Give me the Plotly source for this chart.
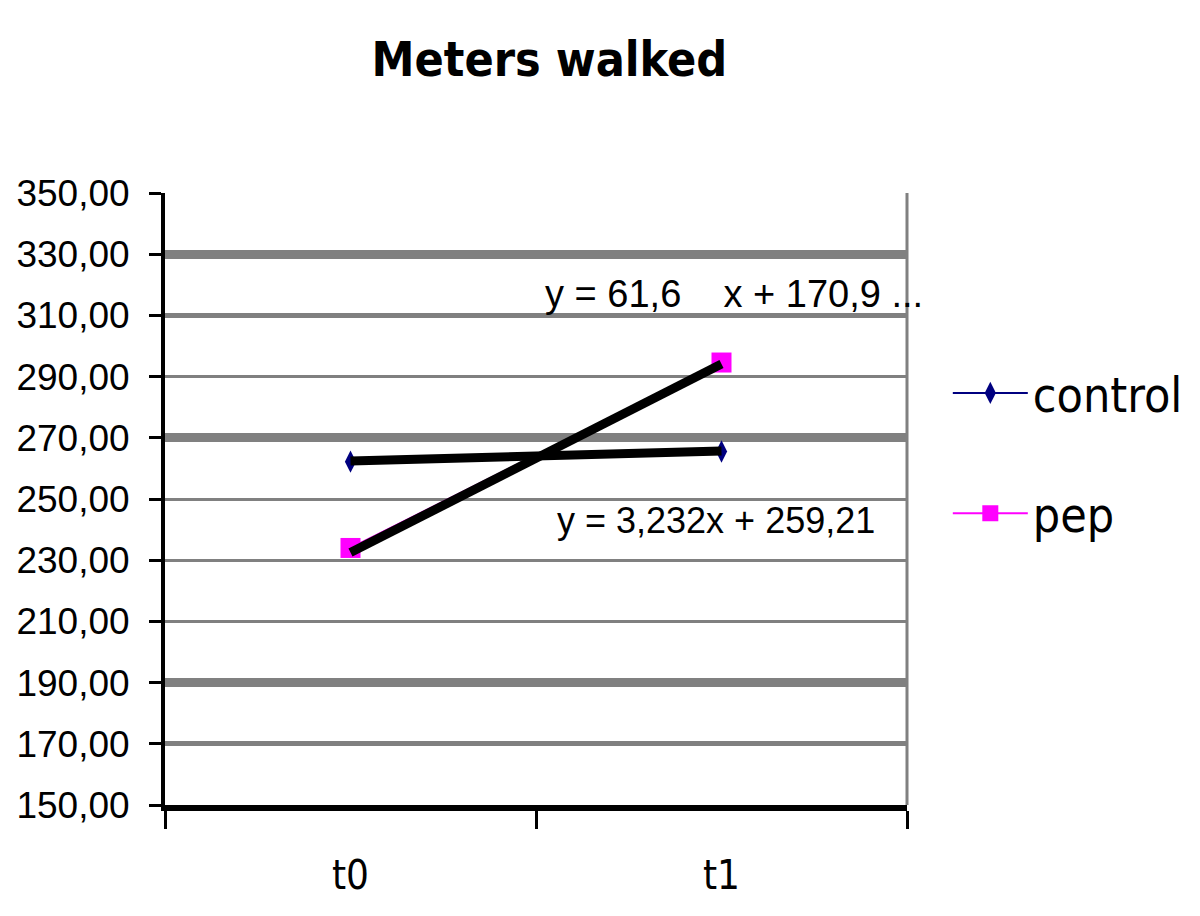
import plotly.graph_objects as go

# data
periods = ["t0", "t1"]
control = [262.2, 265.5]
pep = [234.0, 294.6]
control_trend = [262.4, 265.7]
pep_trend = [232.5, 294.1]
ytick_vals = [150, 170, 190, 210, 230, 250, 270, 290, 310, 330, 350]
grid_thick = [330, 270, 190]
grid_mid = [350, 310, 170]
eq_pep = "y = 61,6    x + 170,9 ..."
eq_control = "y = 3,232x + 259,21"

GRAY = "#808080"
NAVY = "#000080"
MAGENTA = "#FF00FF"
FONT = "Liberation Sans, Arial, sans-serif"
NARROW = "Liberation Sans Narrow, DejaVu Sans Condensed, Liberation Sans, sans-serif"

fig = go.Figure()

fig.add_trace(go.Scatter(x=periods, y=control, name="control", mode="lines+markers",
                         line=dict(color=NAVY, width=2),
                         marker=dict(symbol="diamond-tall", size=16, color=NAVY),
                         legendgroup="c"))
fig.add_trace(go.Scatter(x=periods, y=pep, name="pep", mode="lines+markers",
                         line=dict(color=MAGENTA, width=2),
                         marker=dict(symbol="square", size=20, color=MAGENTA),
                         legendgroup="p"))
# trendlines
fig.add_trace(go.Scatter(x=periods, y=control_trend, mode="lines", showlegend=False,
                         line=dict(color="black", width=9)))
fig.add_trace(go.Scatter(x=periods, y=pep_trend, mode="lines", showlegend=False,
                         line=dict(color="black", width=9)))

fig.add_annotation(text=eq_pep, xref="paper", yref="y", x=0.767, y=317, xanchor="center",
                   showarrow=False, font=dict(size=38, color="black", family=FONT))
fig.add_annotation(text=eq_control, xref="paper", yref="y", x=0.743, y=243, xanchor="center",
                   showarrow=False, font=dict(size=36, color="black", family=FONT))

# right border of plot area
fig.add_shape(type="line", xref="paper", yref="paper", x0=1, x1=1, y0=0, y1=1,
              line=dict(color=GRAY, width=3))

fig.update_layout(
    width=1192, height=908,
    plot_bgcolor="white", paper_bgcolor="white",
    separators=",.",
    margin=dict(l=157, r=288, t=185, b=111),
    title=dict(text="<b>Meters walked</b>", x=0.518, xref="paper", xanchor="center",
               y=0.944, yanchor="middle",
               font=dict(size=48, color="black", family=NARROW)),
    showlegend=True,
    legend=dict(x=1.055, y=0.735, xanchor="left", yanchor="top", itemwidth=75,
                font=dict(size=48, color="black", family=NARROW),
                tracegroupgap=55, bgcolor="rgba(0,0,0,0)"),
    xaxis=dict(type="category", categoryorder="array", categoryarray=periods,
               range=[-0.5, 1.5], tickson="boundaries", automargin=False,
               showline=True, linecolor="black", linewidth=6,
               ticks="outside", ticklen=18, tickwidth=3, tickcolor="black",
               showgrid=False, zeroline=False, ticklabelstandoff=30,
               tickfont=dict(size=40, color="black", family=NARROW)),
    yaxis=dict(range=[150, 350], tickvals=ytick_vals, tickformat=".2f", automargin=False,
               showline=True, linecolor="black", linewidth=4,
               ticks="outside", ticklen=12, tickwidth=3, tickcolor="black",
               showgrid=True, gridcolor=GRAY, gridwidth=2.5, zeroline=False,
               ticklabelstandoff=12,
               tickfont=dict(size=37, color="black", family=FONT)),
    yaxis2=dict(range=[150, 350], overlaying="y", tickvals=grid_mid,
                showticklabels=False, showline=False, ticks="",
                showgrid=True, gridcolor=GRAY, gridwidth=5, zeroline=False),
    yaxis3=dict(range=[150, 350], overlaying="y", tickvals=grid_thick,
                showticklabels=False, showline=False, ticks="",
                showgrid=True, gridcolor=GRAY, gridwidth=9, zeroline=False),
)

# invisible traces to activate the extra gridline axes
fig.add_trace(go.Scatter(x=periods, y=[None, None], yaxis="y2", showlegend=False, hoverinfo="skip"))
fig.add_trace(go.Scatter(x=periods, y=[None, None], yaxis="y3", showlegend=False, hoverinfo="skip"))

fig.write_html("out.html")
